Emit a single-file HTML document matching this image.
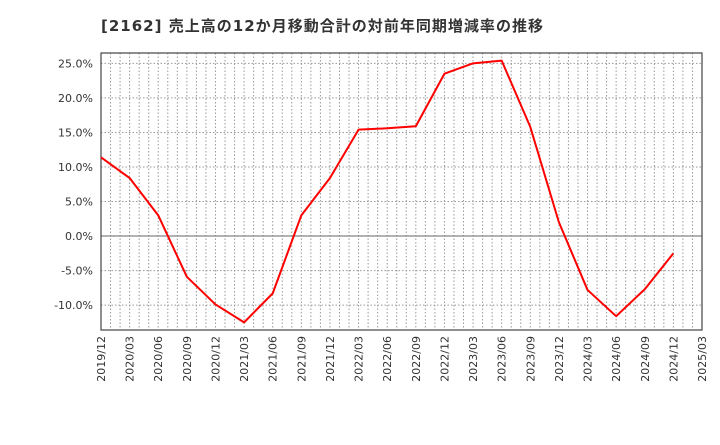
<!DOCTYPE html>
<html><head><meta charset="utf-8"><style>
body{margin:0;background:#fff;width:720px;height:440px;overflow:hidden;font-family:"Liberation Sans","Noto Sans CJK JP",sans-serif}
</style></head><body>
<svg id="chart" width="720" height="440" xmlns="http://www.w3.org/2000/svg">
<text x="101" y="31" font-size="15" font-weight="bold" fill="#333" textLength="442" lengthAdjust="spacing" font-family="DejaVu Sans, Noto Sans CJK JP, sans-serif">[2162]  売上高の12か月移動合計の対前年同期増減率の推移</text>
<g id="grid"></g><g id="axes"></g><g id="series"></g>
</svg>
<script>
const categories=["2019/12","2020/03","2020/06","2020/09","2020/12","2021/03","2021/06","2021/09","2021/12","2022/03","2022/06","2022/09","2022/12","2023/03","2023/06","2023/09","2023/12","2024/03","2024/06","2024/09","2024/12","2025/03"];
const values=[11.4,8.4,3.0,-5.9,-9.9,-12.5,-8.3,3.0,8.4,15.4,15.6,15.9,23.5,25.0,25.4,15.8,2.0,-7.8,-11.6,-7.7,-2.5];
const yTicks=[-10,-5,0,5,10,15,20,25];
const yTickLabels=["-10.0%","-5.0%","0.0%","5.0%","10.0%","15.0%","20.0%","25.0%"];
const L=101,R=702,T=53,B=330,yMin=-13.6,yMax=26.5;
const NS="http://www.w3.org/2000/svg";
const FONT="DejaVu Sans, sans-serif";
const xs=i=>L+(R-L)*i/(categories.length-1);
const ys=v=>B-(v-yMin)/(yMax-yMin)*(B-T);
function mk(t,a,p){const e=document.createElementNS(NS,t);for(const k in a)e.setAttribute(k,a[k]);p.appendChild(e);return e;}
const grid=document.getElementById('grid'),axes=document.getElementById('axes'),ser=document.getElementById('series');
const nMonths=(categories.length-1)*3;
for(let m=1;m<nMonths;m++){const x=L+(R-L)*m/nMonths;
const g=mk('line',{x1:x,x2:x,y1:T,y2:B,stroke:'#999','stroke-dasharray':'1.5,2','stroke-width':1},grid);
}
yTicks.forEach((v,i)=>{const y=ys(v);
const g=mk('line',{x1:L,x2:R,y1:y,y2:y,stroke:v===0?'#666':'#999','stroke-dasharray':v===0?'none':'1.5,2','stroke-width':1},grid);

const t=mk('text',{x:L-8,y:y+4,'text-anchor':'end','font-size':11,fill:'#333','font-family':FONT},axes);t.textContent=yTickLabels[i];
});
categories.forEach((c,i)=>{const x=xs(i);
const t=mk('text',{transform:`translate(${x+4},${B+6}) rotate(-90)`,'text-anchor':'end','font-size':11,fill:'#333','font-family':FONT},axes);t.textContent=c;
});
const f=mk('rect',{x:L,y:T,width:R-L,height:B-T,fill:'none',stroke:'#444','stroke-width':1.2},axes);

const pl=mk('polyline',{points:values.map((v,i)=>xs(i)+','+ys(v)).join(' '),fill:'none',stroke:'#f00','stroke-width':2,'stroke-linejoin':'round'},ser);

</script>
</body></html>
